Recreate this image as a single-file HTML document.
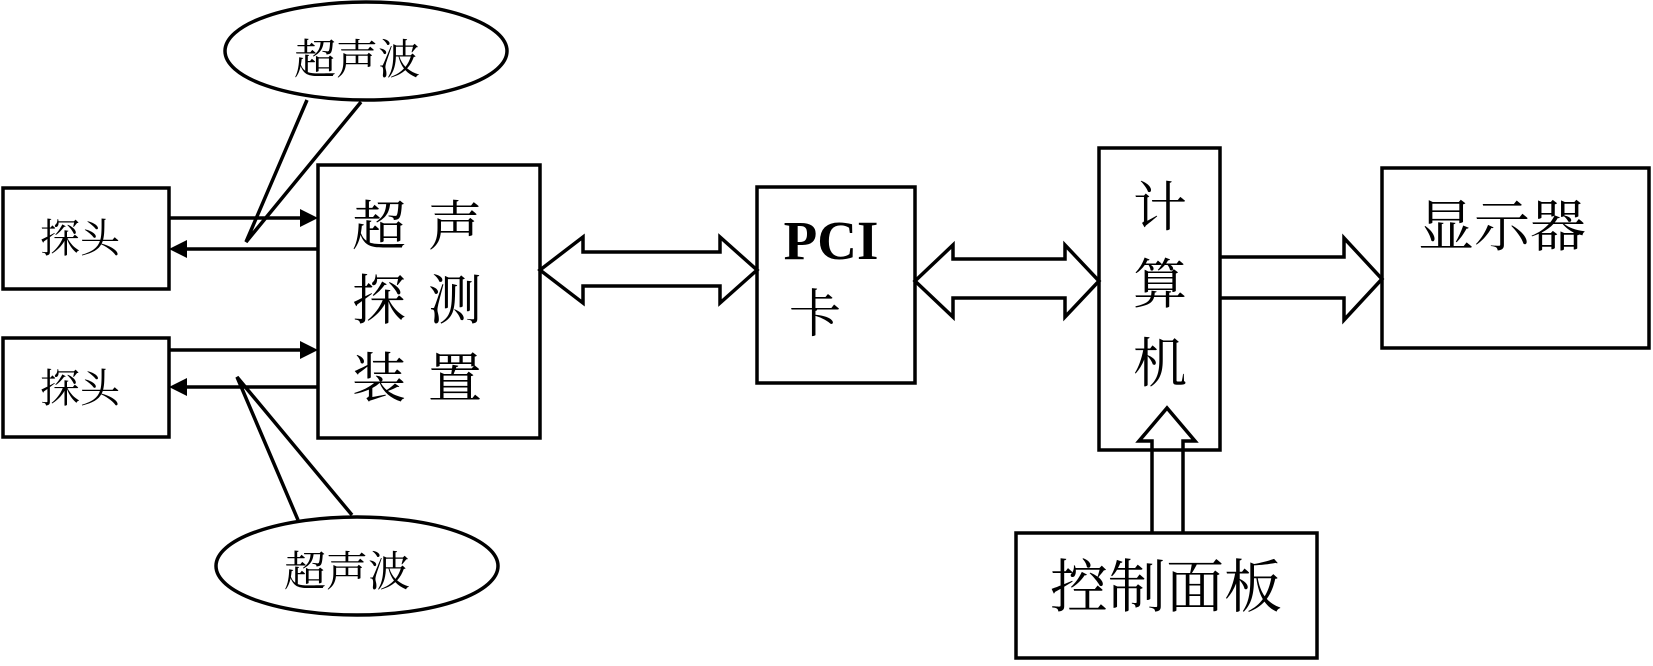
<!DOCTYPE html>
<html><head><meta charset="utf-8"><style>
html,body{margin:0;padding:0;background:#fff;}
svg{display:block;}
text{font-family:"Liberation Serif","Noto Serif CJK SC",serif;fill:#000;}
</style></head><body>
<svg width="1653" height="666" viewBox="0 0 1653 666" xmlns="http://www.w3.org/2000/svg">
<g fill="none" stroke="#000" stroke-width="3.5">
<rect x="3" y="188" width="166" height="101"/>
<rect x="3" y="338" width="166" height="99"/>
<rect x="318" y="165" width="222" height="273"/>
<rect x="757" y="187" width="158" height="196"/>
<rect x="1099" y="148" width="121" height="302"/>
<rect x="1382" y="168" width="267" height="180"/>
<rect x="1016" y="533" width="301" height="125"/>
<ellipse cx="366" cy="51" rx="141" ry="49"/>
<ellipse cx="357" cy="566" rx="141" ry="49"/>
<line x1="169" y1="218" x2="300" y2="218"/>
<line x1="186" y1="249" x2="318" y2="249"/>
<line x1="169" y1="350" x2="300" y2="350"/>
<line x1="186" y1="387" x2="318" y2="387"/>
<polyline points="307,100 246,242 361,102"/>
<polyline points="298,520 237,377 352,515"/>
<polygon points="540,270 583,237 583,252 720,252 720,237 757,270 720,303 720,286 583,286 583,303" fill="#fff"/>
<polygon points="915,281 953,245 953,259 1065,259 1065,245 1099,281 1065,317 1065,298 953,298 953,317" fill="#fff"/>
<polyline points="1220,257 1344,257 1344,238 1382,279 1344,320 1344,298 1220,298"/>
<polyline points="1152,533 1152,441 1139,441 1167,408 1195,441 1183,441 1183,533"/>
</g>
<g fill="#000">
<polygon points="300,209 318,218 300,227"/>
<polygon points="169,249 187,240 187,258"/>
<polygon points="300,341 318,350 300,359"/>
<polygon points="169,387 187,378 187,396"/>
</g>
<text x="357" y="74" font-size="42" text-anchor="middle">超声波</text>
<text x="347" y="586" font-size="42" text-anchor="middle">超声波</text>
<text x="80" y="252" font-size="40" text-anchor="middle">探头</text>
<text x="80" y="402" font-size="40" text-anchor="middle">探头</text>
<g font-size="54" text-anchor="middle">
<text x="379" y="245">超</text><text x="455" y="245">声</text>
<text x="379" y="319">探</text><text x="455" y="319">测</text>
<text x="379" y="397">装</text><text x="455" y="397">置</text>
</g>
<text x="831" y="259" font-size="55" font-weight="bold" text-anchor="middle">PCI</text>
<text x="815" y="332" font-size="52" text-anchor="middle">卡</text>
<g font-size="54" text-anchor="middle">
<text x="1160" y="226">计</text>
<text x="1160" y="303">算</text>
<text x="1160" y="382">机</text>
</g>
<text x="1502" y="246" font-size="56" text-anchor="middle">显示器</text>
<text x="1166" y="607" font-size="58" text-anchor="middle">控制面板</text>
</svg>
</body></html>
